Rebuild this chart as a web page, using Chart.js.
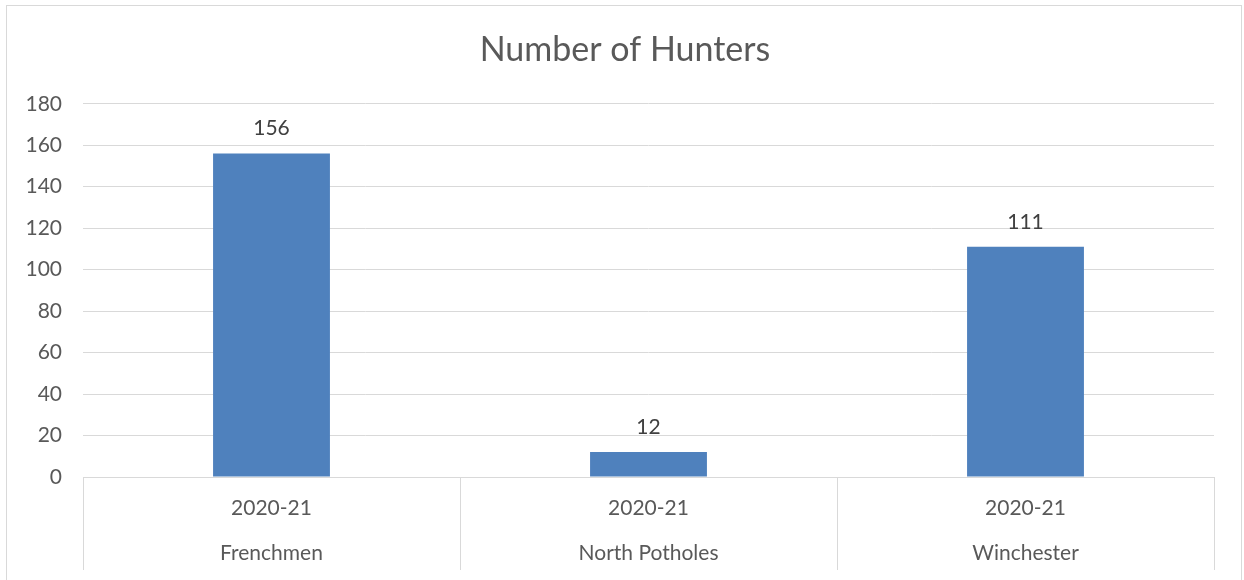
<!DOCTYPE html>
<html>
<head>
<meta charset="utf-8">
<script src="https://cdn.jsdelivr.net/npm/chart.js@4/dist/chart.umd.min.js"></script>
<style>
  body { margin: 0; background: #fff; }
  canvas { display: block; }
</style>
</head>
<body>
<canvas id="huntersChart" width="1244" height="580"></canvas>
<script>
const seasons = ['2020-21', '2020-21', '2020-21'];
const areas = ['Frenchmen', 'North Potholes', 'Winchester'];
const hunters = [156, 12, 111];
const yTicks = { min: 0, max: 180, step: 20 };

const gridColor = '#d9d9d9';
const textColor = '#595959';
const fontFamily = 'Lato, "Open Sans", sans-serif';

// outer chart border (bottom edge is cut off in the reference)
const frame = {
    id: 'frame',
    beforeDraw(chart) {
        const ctx = chart.ctx;
        ctx.save();
        ctx.strokeStyle = gridColor;
        ctx.lineWidth = 1;
        ctx.strokeRect(6.5, 5.5, 1235, 700);
        ctx.restore();
    }
};

// value labels above the bars
const valueLabels = {
    id: 'valueLabels',
    afterDatasetsDraw(chart) {
        const ctx = chart.ctx;
        ctx.save();
        ctx.fillStyle = '#404040';
        ctx.font = '21px ' + fontFamily;
        ctx.textAlign = 'center';
        ctx.textBaseline = 'middle';
        chart.data.datasets.forEach((ds, i) => {
            chart.getDatasetMeta(i).data.forEach((bar, j) => {
                ctx.fillText(ds.data[j], bar.x, bar.y - 25);
            });
        });
        ctx.restore();
    }
};

const ctx = document.getElementById('huntersChart').getContext('2d');
new Chart(ctx, {
    type: 'bar',
    data: {
        labels: areas.map((a, i) => [seasons[i], a]),
        datasets: [{
            label: 'Number of Hunters',
            data: hunters,
            backgroundColor: '#4f81bd',
            borderWidth: 0,
            categoryPercentage: 1,
            barPercentage: 0.31
        }]
    },
    options: {
        responsive: false,
        animation: false,
        devicePixelRatio: 1,
        layout: { padding: { top: 0, right: 0, bottom: 0, left: 6 } },
        plugins: {
            legend: { display: false },
            tooltip: { enabled: false },
            title: {
                display: true,
                text: 'Number of Hunters',
                color: textColor,
                font: { family: fontFamily, size: 34, weight: 'normal', lineHeight: 1.2 },
                padding: { top: 30, bottom: 33 }
            }
        },
        scales: {
            x: {
                grid: {
                    offset: true,
                    drawOnChartArea: false,
                    drawTicks: true,
                    tickLength: 93,
                    color: gridColor
                },
                border: { display: true, color: gridColor },
                ticks: {
                    color: textColor,
                    font: { family: fontFamily, size: 21, lineHeight: 45 / 21 },
                    padding: -84.5,
                    maxRotation: 0,
                    autoSkip: false
                },
                afterFit(scale) { scale.height = 103; }
            },
            y: {
                min: yTicks.min,
                max: yTicks.max,
                grid: { color: gridColor, drawTicks: false },
                border: { display: false },
                ticks: {
                    stepSize: yTicks.step,
                    color: textColor,
                    font: { family: fontFamily, size: 21 },
                    padding: 21
                },
                afterFit(scale) { scale.width = 77; }
            },
            // empty right-hand gutter so the title centres on the whole frame
            gutter: {
                type: 'linear',
                position: 'right',
                grid: { display: false },
                border: { display: false },
                ticks: { display: false },
                afterFit(scale) { scale.width = 30; }
            }
        }
    },
    plugins: [frame, valueLabels]
});
</script>
</body>
</html>
